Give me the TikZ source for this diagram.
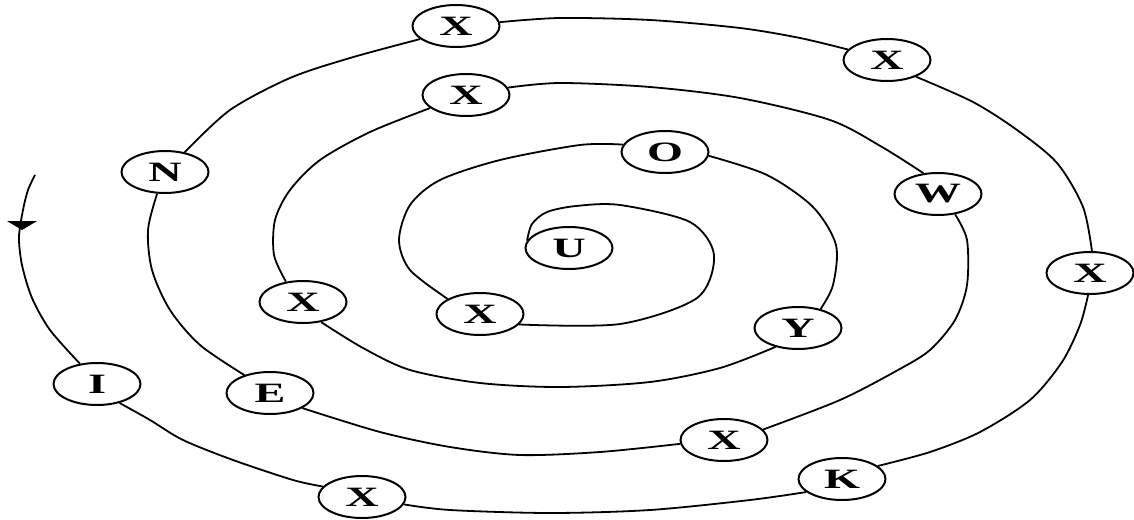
\documentclass[tikz,border=0pt]{standalone}
\usepackage{fontspec}
\setmainfont{Liberation Serif}
\usetikzlibrary{shapes.geometric}
\newcommand\widelbl[1]{\scalebox{1.65}[1]{#1}}
\tikzset{
  nd/.style={draw, ellipse, line width=2pt, minimum width=87pt, minimum height=42pt, inner sep=0pt,
    font=\fontsize{28}{28}\selectfont\bfseries},
  sp/.style={line width=1.8pt},
}
\begin{document}
\begin{tikzpicture}[x=1pt,y=-1pt]
\useasboundingbox (0,0) rectangle (1134,519);
\node[nd] (U) at (569,248) {\widelbl{U}};
\node[nd] (Xa) at (480,314) {\widelbl{X}};
\node[nd] (O) at (665,152) {\widelbl{O}};
\node[nd] (Y) at (798,328) {\widelbl{Y}};
\node[nd] (Xb) at (303,302) {\widelbl{X}};
\node[nd] (Xc) at (466,95) {\widelbl{X}};
\node[nd] (W) at (938,194) {\widelbl{W}};
\node[nd] (Xd) at (724,440) {\widelbl{X}};
\node[nd] (E) at (270,393) {\widelbl{E}};
\node[nd] (N) at (165,172) {\widelbl{N}};
\node[nd] (Xe) at (456,26) {\widelbl{X}};
\node[nd] (Xf) at (887,60) {\widelbl{X}};
\node[nd] (Xg) at (1090,273) {\widelbl{X}};
\node[nd] (K) at (842,479) {\widelbl{K}};
\node[nd] (Xh) at (362,497) {\widelbl{X}};
\node[nd] (I) at (97,384) {\widelbl{I}};
\coordinate (end) at (35,175);
\draw[sp] plot[smooth] coordinates {(U.170) (532,224) (547,212) (576,206) (620,205) (690,222) (714,255) (697,298) (620,324) (Xa.-15)};
\draw[sp] plot[smooth] coordinates {(Xa.155) (410,270) (399,240) (410,205) (440,180) (500,160) (580,145) (O.170)};
\draw[sp] plot[smooth] coordinates {(O.-5) (767,175) (813,207) (836,245) (833,285) (Y.40)};
\draw[sp] plot[smooth] coordinates {(Y.220) (720,368) (650,382) (560,387) (480,383) (410,370) (363,348) (Xb.-48)};
\draw[sp] plot[smooth] coordinates {(Xb.130) (274,255) (275,220) (290,190) (320,160) (370,132) (Xc.200)};
\draw[sp] plot[smooth] coordinates {(Xc.10) (560,83) (650,87) (740,98) (830,120) (882,147) (W.125)};
\draw[sp] plot[smooth] coordinates {(W.-50) (967,240) (967,285) (955,320) (930,350) (898,370) (840,400) (Xd.15)};
\draw[sp] plot[smooth] coordinates {(Xd.185) (600,452) (520,455) (450,447) (380,432) (E.-25)};
\draw[sp] plot[smooth] coordinates {(E.145) (200,345) (170,310) (152,270) (148,230) (N.250)};
\draw[sp] plot[smooth] coordinates {(N.45) (230,110) (290,78) (350,58) (Xe.200)};
\draw[sp] plot[smooth] coordinates {(Xe.5) (560,18) (650,20) (740,28) (800,38) (Xf.165)};
\draw[sp] plot[smooth] coordinates {(Xf.-30) (973,102) (1017,130) (1057,163) (1083,207) (Xg.85)};
\draw[sp] plot[smooth] coordinates {(Xg.-95) (1080,325) (1062,362) (1030,400) (980,432) (930,452) (K.20)};
\draw[sp] plot[smooth] coordinates {(K.200) (750,500) (650,510) (550,513) (450,510) (Xh.-10)};
\draw[sp] plot[smooth] coordinates {(Xh.165) (293,480) (233,460) (183,440) (150,420) (I.-40)};
\draw[sp] plot[smooth] coordinates {(I.130) (50,330) (32,298) (22,265) (19,237) (23,210) (28,190) (end)};
\fill (7,221) -- (37,221) -- (22,230) -- cycle;
\end{tikzpicture}
\end{document}
